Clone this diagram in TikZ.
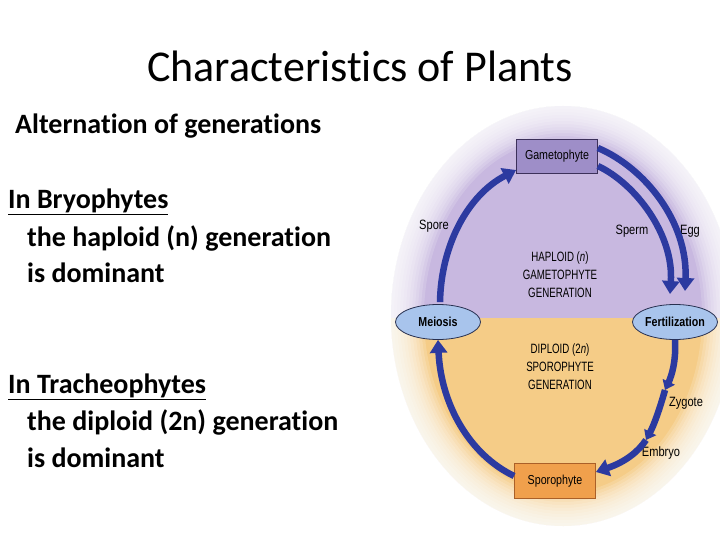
\documentclass[tikz,border=0pt]{standalone}
\usepackage{fontspec}
\setmainfont{Carlito}[Ligatures=NoCommon]
\newfontfamily\diag[FakeStretch=0.82]{Liberation Sans}
\newfontfamily\diagcaps[FakeStretch=0.72]{Liberation Sans}
\usetikzlibrary{arrows.meta,shapes.geometric}
\definecolor{purplebg}{RGB}{200,184,224}
\definecolor{orangebg}{RGB}{245,204,135}
\definecolor{gamefill}{RGB}{158,142,200}
\definecolor{gameline}{RGB}{60,48,90}
\definecolor{ovalfill}{RGB}{168,196,236}
\definecolor{ovalline}{RGB}{40,48,80}
\definecolor{sporofill}{RGB}{240,160,76}
\definecolor{sporoline}{RGB}{170,96,40}
\definecolor{arrowblue}{RGB}{44,58,160}
\tikzset{
  lefttext/.style={anchor=base west, inner sep=0pt, font=\fontsize{28}{32}\selectfont\bfseries},
  lbl/.style={font=\diag\fontsize{13.5}{15}\selectfont, inner sep=1pt},
  gen/.style={font=\diagcaps\fontsize{13.5}{18}\selectfont, align=center, inner sep=0pt},
  gamebox/.style={rectangle, draw=gameline, fill=gamefill, line width=0.8pt, minimum width=81pt, minimum height=34pt, font=\diag\fontsize{13}{15}\selectfont},
  sporobox/.style={rectangle, draw=sporoline, fill=sporofill, line width=0.8pt, minimum width=81pt, minimum height=35pt, font=\diag\fontsize{13}{15}\selectfont},
  oval/.style={ellipse, draw=ovalline, fill=ovalfill, line width=0.8pt, minimum width=85pt, minimum height=35pt, inner sep=0pt, font=\diag\fontsize{13}{15}\selectfont\bfseries},
  bigarrow/.style={draw=arrowblue, line width=6.5pt, -{Triangle[width=17pt,length=13pt]}},
  smallarrow/.style={draw=arrowblue, line width=6.5pt, -{Triangle[width=13pt,length=9pt]}},
}
\begin{document}
\begin{tikzpicture}[x=1pt,y=-1pt]
\useasboundingbox (0,0) rectangle (720,540);
\fill[white] (0,0) rectangle (720,540);
% background of the cycle: two halves, then a soft white edge
\begin{scope}
  \clip (563,316) ellipse [x radius=172, y radius=210];
  \fill[purplebg] (380,90) rectangle (740,318);
  \fill[orangebg] (380,318) rectangle (740,540);
\end{scope}
\foreach \k in {0,...,11}{
  \fill[white, opacity=0.16, even odd rule] (380,90) rectangle (740,540)
    (563,316) ellipse [x radius={172-3*\k}, y radius={210-3*\k}];
}
% title and left text
\node[font=\fontsize{44}{48}\selectfont, anchor=base, inner sep=0pt] (title) at (360,82) {Characteristics of Plants};
\node[lefttext] (alt) at (15,134) {Alternation of generations};
\node[lefttext] (bry) at (8,208) {\underline{In Bryophytes}};
\node[lefttext] (hap1) at (27,246) {the haploid (n) generation};
\node[lefttext] (hap2) at (27,282) {is dominant};
\node[lefttext] (tra) at (8,393) {\underline{In Tracheophytes}};
\node[lefttext] (dip1) at (27,430) {the diploid (2n) generation};
\node[lefttext] (dip2) at (27,467) {is dominant};
% cycle nodes
\node[gamebox] (game) at (557,156) {Gametophyte};
\node[oval] (mei) at (438,322) {Meiosis};
\node[oval] (fert) at (675,322) {Fertilization};
\node[sporobox] (sporo) at (555,481) {Sporophyte};
\node[gen] (hapg) at (560,275) {HAPLOID (\textit{n})\\GAMETOPHYTE\\GENERATION};
\node[gen] (dipg) at (560,367) {DIPLOID (2\textit{n})\\SPOROPHYTE\\GENERATION};
\node[lbl] (spore) at (434,226) {Spore};
\node[lbl] (sperm) at (632,231) {Sperm};
\node[lbl] (egg) at (690,231) {Egg};
\node[lbl] (zyg) at (686,403) {Zygote};
\node[lbl] (emb) at (661,453) {Embryo};
\coordinate (z1) at (665,390);
\coordinate (z2) at (646,440);
% arrows
\draw[bigarrow] (mei.north) ++(2,-2) .. controls (441,245) and (468,195) .. (game.west |- 0,170);
\draw[bigarrow] (game.east |- 0,148) .. controls (645,168) and (688,222) .. (685,291);
\draw[bigarrow] (game.east |- 0,166) .. controls (636,184) and (674,235) .. (670,294);
\draw[smallarrow] (fert.south) -- ++(0,4) .. controls (676,360) and (672,375) .. (z1);
\draw[smallarrow] (z1) .. controls (660,408) and (654,425) .. (z2);
\draw[bigarrow] (z2) .. controls (638,452) and (625,462) .. (sporo.east |- 0,472);
\draw[bigarrow] (sporo.west |- 0,476) .. controls (470,455) and (441,405) .. (mei.south);
\end{tikzpicture}
\end{document}
